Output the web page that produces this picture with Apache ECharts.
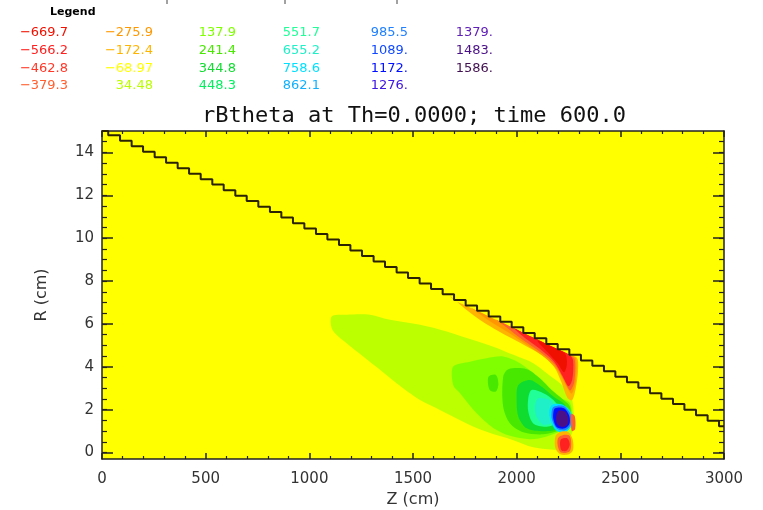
<!DOCTYPE html>
<html>
<head>
<meta charset="utf-8">
<script src="https://cdn.jsdelivr.net/npm/echarts@6/dist/echarts.min.js"></script>
<style>
html, body { margin: 0; padding: 0; background: #fff; }
#plot { width: 763px; height: 510px; }
</style>
</head>
<body>
<div id="plot"></div>
<script>
// ---- contour levels shown in the legend (column by column) ----
const legendLabels = ['-669.7', '-566.2', '-462.8', '-379.3', '-275.9', '-172.4', '-68.97', '34.48',
    '137.9', '241.4', '344.8', '448.3', '551.7', '655.2', '758.6', '862.1',
    '985.5', '1089.', '1172.', '1276.', '1379.', '1483.', '1586.'];

// colour of each level (same order as legendLabels)
const levelColors = ['#f01000', '#ff2020', '#ff3828', '#ff6030', '#ff9800', '#ffb400', '#ffff00', '#bbff00',
    '#80ff00', '#48e800', '#10dc30', '#00f060', '#20ff98', '#20f0c8', '#00e0ff', '#10b0ff',
    '#2080ff', '#1048ff', '#0010ff', '#4018e0', '#6020b8', '#4a1088', '#401050'];

// ---- wall outline (staircase), Z in cm / R in cm ----
const wallZ = [0, 30, 87, 143, 198, 254, 309, 365, 420, 476, 532, 587, 643, 698, 754, 810, 865, 921, 976,
    1032, 1087, 1143, 1198, 1254, 1310, 1365, 1421, 1476, 1532, 1587, 1643, 1698, 1754, 1809, 1865, 1921,
    1976, 2032, 2087, 2143, 2198, 2254, 2310, 2365, 2421, 2476, 2532, 2587, 2643, 2698, 2754, 2809, 2865,
    2921, 2976, 3000];
const wallR = [15.0, 14.80, 14.54, 14.29, 14.03, 13.78, 13.52, 13.26, 13.01, 12.75, 12.50, 12.24, 11.98,
    11.73, 11.47, 11.22, 10.96, 10.70, 10.45, 10.19, 9.94, 9.68, 9.42, 9.17, 8.91, 8.66, 8.40, 8.14, 7.89,
    7.63, 7.38, 7.12, 6.86, 6.61, 6.35, 6.10, 5.84, 5.58, 5.33, 5.07, 4.82, 4.56, 4.30, 4.05, 3.79, 3.54,
    3.28, 3.02, 2.77, 2.51, 2.26, 2.00, 1.74, 1.49, 1.23, 1.23];

// ---- axis ticks ----
const yTicks = [0, 2, 4, 6, 8, 10, 12, 14];

// ---- filled contour regions, [Z, R] outlines ----
const pos034 = [[1108, 6.35], [1180, 6.43], [1293, 6.43], [1389, 6.19], [1534, 5.96], [1662, 5.65], [1759, 5.34],
    [1887, 4.94], [1984, 4.56], [2080, 4.17], [2145, 3.70], [2209, 3.23], [2257, 2.77], [2273, 2.14], [2273, 1.21],
    [2257, 0.60], [2241, 0.10], [2193, 0.12], [2080, 0.25], [1984, 0.58], [1855, 0.97], [1759, 1.36], [1630, 1.99],
    [1534, 2.45], [1421, 3.23], [1341, 3.86], [1260, 4.48], [1180, 5.10], [1112, 5.72]];
const pos138 = [[1694, 4.01], [1775, 4.24], [1855, 4.40], [1935, 4.48], [2016, 4.17], [2080, 3.70], [2145, 3.07],
    [2193, 2.61], [2257, 2.30], [2265, 1.21], [2225, 1.05], [2145, 0.75], [2064, 0.62], [1968, 0.78], [1887, 1.15],
    [1807, 1.83], [1727, 2.77], [1694, 3.15]];
const pos241 = [[1935, 3.54], [1960, 3.89], [2048, 3.89], [2112, 3.47], [2169, 2.92], [2217, 2.53], [2257, 2.14],
    [2260, 1.36], [2209, 1.05], [2129, 0.85], [2032, 0.95], [1968, 1.36], [1935, 2.14]];
const pos241b = [[1865, 3.55], [1900, 3.62], [1912, 3.20], [1900, 2.85], [1872, 2.90], [1862, 3.20]];
const pos345 = [[2008, 3.15], [2064, 3.39], [2121, 3.07], [2177, 2.61], [2233, 2.22], [2249, 1.67], [2209, 1.13],
    [2129, 0.99], [2048, 1.13], [2008, 1.67], [2000, 2.45]];
const pos552 = [[2072, 2.92], [2129, 2.77], [2177, 2.45], [2209, 1.99], [2201, 1.44], [2145, 1.21], [2080, 1.36],
    [2056, 1.91], [2056, 2.53]];
const pos655 = [[2104, 2.53], [2161, 2.45], [2185, 2.07], [2177, 1.45], [2129, 1.30], [2096, 1.67], [2088, 2.14]];
const pos759 = [[2169, 2.22], [2217, 2.25], [2260, 1.91], [2265, 1.32], [2241, 0.98], [2193, 1.01], [2164, 1.47],
    [2157, 1.91]];
const pos986 = [[2177, 2.13], [2225, 2.17], [2260, 1.79], [2260, 1.29], [2233, 1.04], [2193, 1.12], [2170, 1.55],
    [2169, 1.91]];
const pos1172 = [[2185, 2.07], [2228, 2.07], [2254, 1.71], [2254, 1.32], [2228, 1.12], [2193, 1.19], [2177, 1.55],
    [2177, 1.87]];
const pos1483 = [[2201, 1.94], [2233, 1.91], [2249, 1.63], [2246, 1.32], [2222, 1.19], [2196, 1.32], [2190, 1.63]];

const negUp172 = [[1680, 7.30], [1698, 7.12], [1754, 6.86], [1809, 6.61], [1865, 6.35], [1921, 6.10], [1976, 5.84],
    [2032, 5.58], [2087, 5.33], [2143, 5.07], [2198, 4.82], [2254, 4.56], [2292, 4.40], [2296, 3.80], [2285, 3.00],
    [2268, 2.45], [2245, 2.55], [2215, 3.30], [2180, 4.00], [2120, 4.55], [2040, 5.00], [1952, 5.45], [1870, 5.90],
    [1800, 6.35], [1740, 6.80]];
const negUp276 = [[1780, 6.75], [1809, 6.61], [1865, 6.35], [1921, 6.10], [1976, 5.84], [2032, 5.58], [2087, 5.33],
    [2143, 5.07], [2198, 4.82], [2254, 4.56], [2285, 4.40], [2286, 3.40], [2266, 2.75], [2242, 3.05], [2200, 3.80],
    [2140, 4.40], [2060, 4.95], [1960, 5.60], [1860, 6.20]];
const negUp379 = [[1900, 6.22], [1921, 6.10], [1976, 5.84], [2032, 5.58], [2087, 5.33], [2143, 5.07], [2198, 4.82],
    [2254, 4.56], [2280, 4.35], [2278, 3.30], [2258, 2.90], [2228, 3.40], [2185, 4.10], [2120, 4.65], [2030, 5.25],
    [1950, 5.85]];
const negUp566 = [[1990, 5.78], [2032, 5.58], [2087, 5.33], [2143, 5.07], [2198, 4.82], [2254, 4.56], [2272, 4.30],
    [2268, 3.40], [2250, 3.10], [2220, 3.60], [2180, 4.25], [2110, 4.85], [2040, 5.35]];
const negUp670 = [[2100, 5.22], [2143, 5.07], [2198, 4.82], [2235, 4.60], [2242, 4.10], [2228, 3.75], [2198, 4.15],
    [2150, 4.68]];
const negLow172 = [[2188, 0.78], [2215, 0.98], [2250, 0.95], [2270, 0.62], [2272, 0.12], [2252, -0.08], [2210, -0.08],
    [2186, 0.22]];
const negLow379 = [[2200, 0.68], [2225, 0.82], [2255, 0.78], [2263, 0.42], [2255, 0.05], [2215, 0.0], [2198, 0.32]];
const negLow566 = [[2212, 0.60], [2245, 0.66], [2256, 0.36], [2240, 0.08], [2215, 0.12]];
const negSide379 = [[2262, 1.80], [2280, 1.70], [2282, 1.10], [2266, 1.00]];

// drawing order: outer shells first, each tagged with its legend level
const contourRegions = [
    { points: pos034, level: 7 }, { points: pos138, level: 8 }, { points: pos241, level: 9 },
    { points: pos241b, level: 9 }, { points: pos345, level: 10 }, { points: pos552, level: 12 },
    { points: pos655, level: 13 }, { points: pos759, level: 14 }, { points: pos986, level: 16 },
    { points: pos1172, level: 18 }, { points: pos1483, level: 21 },
    { points: negUp172, level: 5 }, { points: negUp276, level: 4 }, { points: negUp379, level: 3 },
    { points: negUp566, level: 1 }, { points: negUp670, level: 0 },
    { points: negLow172, level: 5 }, { points: negLow379, level: 3 }, { points: negLow566, level: 1 },
    { points: negSide379, level: 3 }
];

// minor tick positions on R (every 0.5 cm)
const yMinorTicks = Array.from({ length: 30 }, (_, i) => i * 0.5);

const font = 'DejaVu Sans';
const axisColor = '#222';

// Legend block drawn as text
const legendColRight = [68, 153, 236, 320, 408, 493];
const legendGraphics = legendLabels.map((s, i) => ({
    type: 'text',
    x: legendColRight[Math.floor(i / 4)],
    y: 33 + 17.6 * (i % 4),
    style: {
        text: s.replace('-', '\u2212'),
        fill: levelColors[i],
        font: '13px "DejaVu Sans"',
        align: 'right',
        verticalAlign: 'middle'
    }
}));
legendGraphics.push({
    type: 'text', x: 50, y: 12,
    style: { text: 'Legend', fill: '#000', font: 'bold 11px "DejaVu Sans"', verticalAlign: 'middle' }
});
// clipped text fragments at the very top
[167, 285, 397].forEach(x => legendGraphics.push({
    type: 'line', shape: { x1: x, y1: 0, x2: x, y2: 4 }, style: { stroke: '#444', lineWidth: 1 }
}));

const chart = echarts.init(document.getElementById('plot'), null, { renderer: 'canvas' });

const majorY = (pos) => ({
    type: 'value', gridIndex: 0, min: -0.3, max: 15, position: pos,
    axisLine: { show: true, onZero: false, lineStyle: { color: axisColor, width: 1.5 } },
    axisTick: { show: true, inside: true, length: 11, customValues: yTicks, lineStyle: { color: axisColor, width: 1.5 } },
    axisLabel: pos === 'left'
        ? { show: true, customValues: yTicks, fontSize: 15, color: '#333', margin: 8, fontFamily: font }
        : { show: false },
    splitLine: { show: false },
    name: pos === 'left' ? 'R (cm)' : '',
    nameLocation: 'middle',
    nameGap: 52,
    nameTextStyle: { fontSize: 16, color: '#333', fontFamily: font }
});
const minorY = (pos) => ({
    type: 'value', gridIndex: 1, min: -0.3, max: 15, position: pos,
    axisLine: { show: false },
    axisTick: { show: true, inside: true, length: 5, customValues: yMinorTicks, lineStyle: { color: axisColor, width: 1.2 } },
    axisLabel: { show: false },
    splitLine: { show: false }
});
const zAxis = (pos) => ({
    type: 'value', gridIndex: 0, min: 0, max: 3000, interval: 500, position: pos,
    axisLine: { show: true, onZero: false, lineStyle: { color: axisColor, width: 1.5 } },
    axisTick: { show: true, inside: true, length: 6, lineStyle: { color: axisColor, width: 1.5 } },
    minorTick: { show: true, splitNumber: 5, length: 3, lineStyle: { color: axisColor, width: 1.2 } },
    axisLabel: pos === 'bottom'
        ? { show: true, fontSize: 15, color: '#333', margin: 13, fontFamily: font, formatter: v => String(v) }
        : { show: false },
    splitLine: { show: false },
    minorSplitLine: { show: false },
    name: pos === 'bottom' ? 'Z (cm)' : '',
    nameLocation: 'middle',
    nameGap: 30,
    nameTextStyle: { fontSize: 16, color: '#333', fontFamily: font }
});

const gridBox = { left: 102, right: 39, top: 131, bottom: 51, containLabel: false, outerBoundsMode: 'none' };

const option = {
    animation: false,
    backgroundColor: '#fff',
    title: {
        text: 'rBtheta at Th=0.0000; time 600.0',
        left: 409, top: 100, textAlign: 'center',
        textStyle: { fontSize: 22, fontWeight: 'normal', color: '#111', fontFamily: 'DejaVu Sans Mono' }
    },
    grid: [
        Object.assign({ show: true, backgroundColor: '#ffff00', borderWidth: 0 }, gridBox),
        Object.assign({ show: false }, gridBox)
    ],
    xAxis: [
        zAxis('bottom'),
        zAxis('top'),
        { type: 'value', gridIndex: 1, min: 0, max: 3000, show: false }
    ],
    yAxis: [majorY('left'), majorY('right'), minorY('left'), minorY('right')],
    graphic: legendGraphics,
    series: [
        {
            // filled contour bands
            type: 'custom',
            xAxisIndex: 0, yAxisIndex: 0,
            clip: true,
            z: 2,
            data: contourRegions.map((r, i) => [i]),
            renderItem: function (params, api) {
                const reg = contourRegions[params.dataIndex];
                return {
                    type: 'polygon',
                    shape: { points: reg.points.map(p => api.coord(p)), smooth: 0.3 },
                    style: { fill: levelColors[reg.level] }
                };
            }
        },
        {
            // wall staircase
            type: 'line',
            xAxisIndex: 0, yAxisIndex: 0,
            step: 'end',
            showSymbol: false,
            z: 4,
            data: wallZ.map((z, i) => [z, wallR[i]]),
            lineStyle: { color: '#2a2200', width: 2 }
        }
    ]
};

chart.setOption(option);
</script>
</body>
</html>
